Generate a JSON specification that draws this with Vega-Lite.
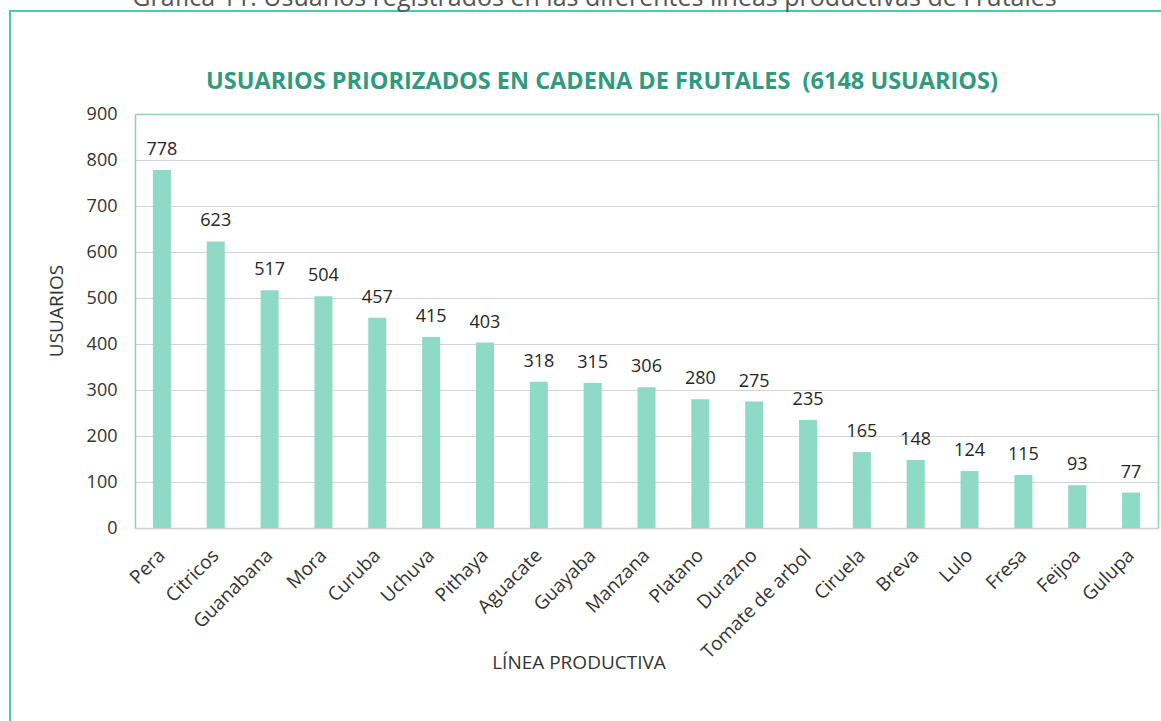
{
  "$schema": "https://vega.github.io/schema/vega-lite/v6.json",
  "width": 1153,
  "height": 713,
  "autosize": {"type": "none"},
  "padding": {"left": 10, "top": 11, "right": -2, "bottom": -3},
  "background": "white",
  "title": {
    "text": "Gráfica 11. Usuarios registrados en las diferentes líneas productivas de Frutales",
    "anchor": "middle",
    "frame": "group",
    "dx": 8,
    "offset": 0,
    "font": "Open Sans",
    "fontSize": 25,
    "fontWeight": "normal",
    "color": "#555555"
  },
  "data": {
    "values": [
      {"linea": "Pera", "usuarios": 778},
      {"linea": "Citricos", "usuarios": 623},
      {"linea": "Guanabana", "usuarios": 517},
      {"linea": "Mora", "usuarios": 504},
      {"linea": "Curuba", "usuarios": 457},
      {"linea": "Uchuva", "usuarios": 415},
      {"linea": "Pithaya", "usuarios": 403},
      {"linea": "Aguacate", "usuarios": 318},
      {"linea": "Guayaba", "usuarios": 315},
      {"linea": "Manzana", "usuarios": 306},
      {"linea": "Platano", "usuarios": 280},
      {"linea": "Durazno", "usuarios": 275},
      {"linea": "Tomate de arbol", "usuarios": 235},
      {"linea": "Ciruela", "usuarios": 165},
      {"linea": "Breva", "usuarios": 148},
      {"linea": "Lulo", "usuarios": 124},
      {"linea": "Fresa", "usuarios": 115},
      {"linea": "Feijoa", "usuarios": 93},
      {"linea": "Gulupa", "usuarios": 77}
    ]
  },
  "layer": [
    {
      "mark": {"type": "bar", "color": "#8fdac7"},
      "encoding": {
        "x": {
          "field": "linea",
          "type": "nominal",
          "sort": null,
          "scale": {"range": [125, 1148], "paddingInner": 0.665, "paddingOuter": 0.3325},
          "axis": {
            "orient": "bottom",
            "offset": -196,
            "title": "LÍNEA PRODUCTIVA",
            "titleFontSize": 19,
            "titleFontWeight": "normal",
            "titleColor": "#333333",
            "titleX": 568.5,
            "titleY": 140,
            "titleAlign": "center",
            "titleBaseline": "alphabetic",
            "labelAngle": -45,
            "labelAlign": "right",
            "labelBaseline": "middle",
            "labelFontSize": 19,
            "labelColor": "#333333",
            "labelPadding": 24,
            "labelOverlap": false,
            "ticks": false,
            "tickSize": 0,
            "domainColor": "#d0d0d0",
            "domainWidth": 1.5,
            "grid": false
          }
        },
        "y": {
          "field": "usuarios",
          "type": "quantitative",
          "scale": {"domain": [0, 900], "nice": false, "range": [517, 103]},
          "axis": {
            "orient": "left",
            "offset": -125,
            "values": [0, 100, 200, 300, 400, 500, 600, 700, 800, 900],
            "title": "USUARIOS",
            "titleFontSize": 19,
            "titleFontWeight": "normal",
            "titleColor": "#333333",
            "titleAngle": -90,
            "titleX": -73,
            "titleY": 299.5,
            "titleAlign": "center",
            "titleBaseline": "alphabetic",
            "labelFontSize": 18,
            "labelColor": "#333333",
            "labelPadding": 18,
            "ticks": false,
            "tickSize": 0,
            "domainColor": "#86d6ad",
            "domainWidth": 1.5,
            "grid": true,
            "gridColor": "#d4d4d4",
            "gridWidth": 1.2
          }
        }
      }
    },
    {
      "mark": {"type": "text", "baseline": "alphabetic", "dy": -15, "fontSize": 18, "color": "#262626", "font": "Open Sans"},
      "encoding": {
        "x": {
          "field": "linea",
          "type": "nominal",
          "sort": null,
          "axis": {
            "orient": "top",
            "offset": -103,
            "labels": false,
            "ticks": false,
            "tickSize": 0,
            "grid": false,
            "domainColor": "#86d6ad",
            "domainWidth": 1.5,
            "title": "USUARIOS PRIORIZADOS EN CADENA DE FRUTALES \u00a0(6148 USUARIOS)",
            "titleFontSize": 23.5,
            "titleFontWeight": "bold",
            "titleColor": "#2f9a7d",
            "titleX": 591.5,
            "titleY": -26,
            "titleAlign": "center",
            "titleBaseline": "alphabetic"
          }
        },
        "y": {
          "field": "usuarios",
          "type": "quantitative",
          "axis": {
            "orient": "right",
            "offset": -5,
            "labels": false,
            "ticks": false,
            "tickSize": 0,
            "grid": false,
            "domainColor": "#86d6ad",
            "domainWidth": 1.5,
            "title": null
          }
        },
        "text": {"field": "usuarios", "type": "quantitative"}
      }
    }
  ],
  "resolve": {"axis": {"x": "independent", "y": "independent"}},
  "config": {
    "font": "Open Sans",
    "view": {"stroke": "#4cc9a8", "strokeWidth": 2},
    "axis": {"labelFont": "Open Sans", "titleFont": "Open Sans"}
  }
}
